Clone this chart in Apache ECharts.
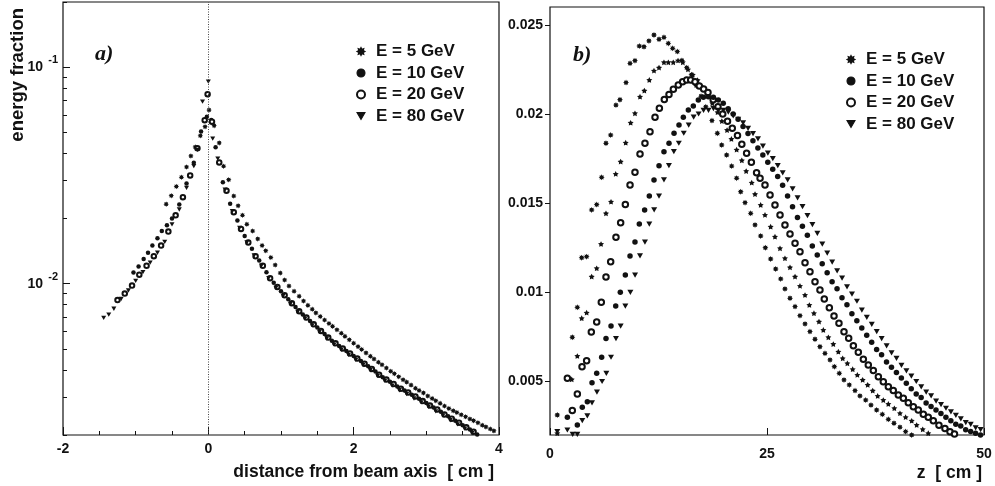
<!DOCTYPE html>
<html>
<head>
<meta charset="utf-8">
<script src="https://cdn.jsdelivr.net/npm/echarts@6/dist/echarts.min.js"></script>
<style>
  html, body { margin: 0; padding: 0; background: #fff; }
  #chart { width: 995px; height: 486px; }
</style>
</head>
<body>
<div id="chart"></div>
<script>
// ---------- series labels ----------
const energies = ['E = 5 GeV', 'E = 10 GeV', 'E = 20 GeV', 'E = 80 GeV'];

// ---------- panel a: lateral profile, [distance (cm), energy fraction] ----------
const lat5 = [[-0.58,0.0233],[-0.51,0.0255],[-0.44,0.0281],[-0.37,0.0310],[-0.30,0.0346],[-0.24,0.0389],[-0.18,0.0428],[-0.11,0.0482],[-0.045,0.0531],
  [0.01,0.0634],[0.08,0.0537],[0.15,0.0447],[0.21,0.0349],[0.28,0.0302],[0.35,0.0254],[0.41,0.0229],[0.47,0.0207],[0.53,0.0188],[0.61,0.0175],
  [0.68,0.0161],[0.74,0.0150],[0.79,0.0142],[0.86,0.0132],[0.92,0.0122],[0.99,0.0112],[1.05,0.0104],[1.11,0.00975],[1.18,0.00923],[1.25,0.00875],
  [1.31,0.00832],[1.37,0.00794],[1.43,0.00762],[1.48,0.00733],[1.54,0.00705],[1.60,0.00679],[1.66,0.00655],[1.71,0.00635],[1.77,0.00612],
  [1.83,0.00590],[1.88,0.00571],[1.94,0.00551],[2.00,0.00531],[2.06,0.00512],[2.11,0.00497],[2.17,0.00479],[2.23,0.00462],[2.28,0.00449],
  [2.34,0.00434],[2.39,0.00422],[2.45,0.00408],[2.51,0.00394],[2.56,0.00384],[2.62,0.00372],[2.68,0.00360],[2.73,0.00351],[2.79,0.00340],
  [2.85,0.00329],[2.90,0.00321],[2.96,0.00313],[3.02,0.00303],[3.08,0.00295],[3.13,0.00288],[3.19,0.00280],[3.25,0.00272],[3.31,0.00265],
  [3.37,0.00259],[3.42,0.00254],[3.48,0.00248],[3.54,0.00243],[3.60,0.00237],[3.65,0.00233],[3.71,0.00228],[3.77,0.00222],[3.82,0.00218],
  [3.88,0.00213],[3.93,0.00209]];

const lat10 = [[-1.03,0.01125],[-0.96,0.0120],[-0.89,0.0130],[-0.83,0.0139],[-0.77,0.0150],[-0.70,0.0162],[-0.64,0.0175],[-0.57,0.0186],
  [-0.50,0.0200],[-0.40,0.0232],[-0.30,0.0290],[-0.20,0.0362],[-0.10,0.0505],[-0.02,0.0590],[0.04,0.0570],
  [0.10,0.0427],[0.20,0.0294],[0.30,0.0234],[0.40,0.0196],[0.50,0.0166],[0.60,0.0145],[0.70,0.0128],[0.80,0.0113],[0.90,0.0101],
  [1.00,0.00923],[1.10,0.00847],[1.20,0.00780],[1.30,0.00721],[1.40,0.00673],[1.50,0.00627],[1.60,0.00585],[1.70,0.00545],[1.80,0.00516],
  [1.90,0.00489],[2.00,0.00463],[2.10,0.00439],[2.20,0.00415],[2.30,0.00393],[2.40,0.00370],[2.50,0.00352],[2.60,0.00335],[2.70,0.00321],
  [2.80,0.00307],[2.90,0.00294],[3.00,0.00281],[3.10,0.00268],[3.20,0.00256],[3.30,0.00244],[3.40,0.00233],[3.50,0.00222],[3.60,0.00212],
  [3.70,0.00201]];

const lat20 = [[-1.25,0.0084],[-1.15,0.0090],[-1.05,0.0098],[-0.95,0.0110],[-0.85,0.0121],[-0.75,0.0134],[-0.65,0.0150],[-0.55,0.0174],
  [-0.45,0.0207],[-0.35,0.0251],[-0.25,0.0316],[-0.15,0.0422],[-0.05,0.0569],[-0.01,0.0750],[0.05,0.0560],
  [0.15,0.0363],[0.25,0.0269],[0.35,0.0214],[0.45,0.0179],[0.55,0.0155],[0.65,0.0134],[0.75,0.0121],[0.85,0.0106],[0.95,0.00966],
  [1.05,0.00885],[1.15,0.00813],[1.25,0.00746],[1.35,0.00697],[1.45,0.00649],[1.55,0.00605],[1.65,0.00564],[1.75,0.00530],[1.85,0.00502],
  [1.95,0.00476],[2.05,0.00451],[2.15,0.00427],[2.25,0.00404],[2.35,0.00380],[2.45,0.00361],[2.55,0.00344],[2.65,0.00327],[2.75,0.00314],
  [2.85,0.00301],[2.95,0.00287],[3.05,0.00274],[3.15,0.00262],[3.25,0.00249],[3.35,0.00238],[3.45,0.00228],[3.55,0.00217],[3.65,0.00207]];

const lat80 = [[-1.44,0.00695],[-1.37,0.00720],[-1.30,0.00766],[-1.20,0.00850],[-1.10,0.00930],[-1.00,0.0103],[-0.90,0.0113],[-0.80,0.0125],
  [-0.70,0.0139],[-0.60,0.0156],[-0.50,0.0188],[-0.40,0.0220],[-0.30,0.0277],[-0.20,0.0349],[-0.15,0.0415],[-0.08,0.0693],[0.00,0.0857],
  [0.06,0.0468],[0.13,0.0378],[0.23,0.0272],[0.33,0.0216],[0.43,0.0181],[0.53,0.0155],[0.63,0.0135],[0.73,0.0121],[0.83,0.0106],
  [0.93,0.00956],[1.03,0.00878],[1.13,0.00806],[1.23,0.00741],[1.33,0.00689],[1.43,0.00642],[1.53,0.00599],[1.63,0.00558],[1.73,0.00523],
  [1.83,0.00495],[1.93,0.00469],[2.03,0.00445],[2.13,0.00421],[2.23,0.00398],[2.33,0.00375],[2.43,0.00356],[2.53,0.00338],[2.63,0.00322],
  [2.73,0.00309],[2.83,0.00295],[2.93,0.00283],[3.03,0.00270],[3.13,0.00257],[3.23,0.00246],[3.33,0.00234],[3.43,0.00224],[3.53,0.00214],
  [3.63,0.00204]];

// ---------- panel b: longitudinal profile, [z (cm), energy fraction] ----------
const lon5 = [[0.84,0.00312],[2.57,0.00748],[3.15,0.00916],[3.65,0.01194],[4.22,0.0120],[4.8,0.01462],[5.38,0.01492],[5.95,0.01645],
  [6.45,0.01836],[6.99,0.01882],[7.6,0.0205],[8.06,0.0208],[8.76,0.02176],[9.22,0.02284],[9.79,0.02299],[10.29,0.02381],[10.83,0.02377],
  [11.4,0.0241],[11.98,0.02443],[12.56,0.02419],[13.13,0.0243],[13.63,0.02396],[14.13,0.02368],[14.67,0.0235],[15.2,0.0230],[15.75,0.0226],
  [16.3,0.0222],[16.85,0.0216],[17.4,0.0210],[17.95,0.0204],[18.66,0.01963],[19.28,0.01892],[19.78,0.01826],[20.35,0.0177],[20.93,0.01708],
  [21.5,0.0164],[21.97,0.01564],[22.47,0.01503],[23.12,0.01443],[23.62,0.01378],[24.27,0.01316],[24.81,0.0125],[25.42,0.01187],[26.0,0.01131],
  [26.58,0.01075],[27.07,0.01019],[27.65,0.00967],[28.23,0.0092],[28.8,0.00869],[29.38,0.00823],[29.95,0.0078],[30.53,0.00737],[31.1,0.00695],
  [31.68,0.00658],[32.26,0.00621],[32.76,0.00583],[33.33,0.00546],[33.87,0.00509],[34.48,0.00481],[35.14,0.00449],[35.71,0.00419],
  [36.37,0.00396],[36.98,0.00368],[37.63,0.0034],[38.29,0.00316],[38.98,0.00288],[39.63,0.00266],[40.32,0.00244],[40.97,0.00219],[41.67,0.0020]];

const lonStar = [[0.84,0.0021],[2.5,0.00512],[3.15,0.00643],[3.65,0.00855],[4.22,0.00886],[4.8,0.01088],[5.38,0.01135],[5.88,0.01271],
  [6.45,0.01443],[7.03,0.01508],[7.57,0.01664],[8.14,0.01733],[8.72,0.01839],[9.29,0.01951],[9.79,0.02004],[10.37,0.02097],[10.87,0.02131],
  [11.44,0.02191],[11.98,0.02243],[12.56,0.0226],[13.13,0.0229],[13.63,0.0229],[14.2,0.0229],[14.75,0.0230],[15.3,0.0229],[15.9,0.0225],
  [16.45,0.0222],[17.0,0.0219],[17.6,0.0215],[18.1,0.0211],[18.7,0.0206],[19.3,0.0201],[19.8,0.0196],[20.4,0.0191],[20.9,0.0186],[21.5,0.0180],
  [22.1,0.0174],[22.6,0.0168],[23.24,0.01615],[23.62,0.01551],[24.27,0.0149],[24.77,0.01434],[25.42,0.01368],[25.92,0.01312],[26.5,0.01247],
  [27.07,0.01191],[27.65,0.0114],[28.23,0.01088],[28.8,0.01036],[29.38,0.00985],[29.88,0.00929],[30.41,0.00883],[30.99,0.00836],[31.49,0.00789],
  [32.07,0.00748],[32.64,0.0071],[33.22,0.00667],[33.72,0.0063],[34.26,0.00602],[34.87,0.00569],[35.41,0.00537],[36.02,0.00509],[36.6,0.00481],
  [37.18,0.00449],[37.75,0.00419],[38.4,0.00396],[38.98,0.00374],[39.67,0.0035],[40.32,0.00322],[40.97,0.003],[41.67,0.0028],[42.24,0.00256],
  [42.94,0.00232],[43.58,0.0021]];

const lon20 = [[2.0,0.00518],[2.57,0.00337],[3.15,0.0043],[3.69,0.00583],[4.22,0.00617],[4.76,0.00778],[5.38,0.00834],[5.91,0.00944],
  [6.45,0.01086],[6.99,0.01172],[7.6,0.01309],[8.14,0.0139],[8.68,0.01492],[9.22,0.01602],[9.79,0.01673],[10.37,0.01776],[10.94,0.01836],
  [11.52,0.01901],[12.1,0.01982],[12.6,0.02032],[13.17,0.02082],[13.71,0.0211],[14.21,0.02139],[14.78,0.02163],[15.28,0.02181],[15.75,0.02191],
  [16.21,0.02191],[16.71,0.02181],[17.2,0.02157],[17.7,0.0214],[18.2,0.0212],[18.8,0.0208],[19.35,0.0204],[19.9,0.0200],[20.45,0.0196],
  [21.0,0.0192],[21.6,0.0188],[22.1,0.0183],[22.65,0.0178],[23.2,0.0173],[23.8,0.0167],[24.2,0.0164],[24.77,0.01602],[25.35,0.01546],
  [25.92,0.0149],[26.5,0.01434],[27.07,0.01378],[27.65,0.01327],[28.23,0.01275],[28.8,0.01228],[29.38,0.01166],[29.95,0.01116],[30.53,0.0106],
  [31.1,0.01013],[31.6,0.00963],[32.18,0.00914],[32.72,0.00867],[33.29,0.00826],[33.87,0.00779],[34.41,0.00742],[34.95,0.00701],[35.52,0.00664],
  [36.1,0.00625],[36.67,0.00593],[37.25,0.00561],[37.83,0.00527],[38.4,0.00499],[38.98,0.00471],[39.55,0.00449],[40.13,0.00424],[40.71,0.00406],
  [41.28,0.00381],[41.86,0.00358],[42.43,0.0034],[43.01,0.00317],[43.58,0.00299],[44.16,0.0028],[44.81,0.00255],[45.5,0.00237],[46.08,0.00218],
  [46.6,0.00205]];

const lon10 = [[2.0,0.0030],[3.15,0.00256],[3.72,0.00356],[4.3,0.00387],[4.84,0.00493],[5.38,0.00546],[5.95,0.00636],[6.45,0.00741],
  [7.03,0.00811],[7.57,0.00923],[8.1,0.0100],[8.68,0.01097],[9.22,0.01204],[9.79,0.01282],[10.29,0.01383],[10.9,0.01462],[11.44,0.0154],
  [11.98,0.0163],[12.56,0.0171],[13.13,0.01789],[13.71,0.01836],[14.29,0.01892],[14.86,0.01938],[15.36,0.01982],[15.94,0.02022],[16.51,0.02045],
  [17.09,0.02079],[17.67,0.02094],[18.24,0.02097],[18.82,0.02094],[19.39,0.02079],[19.96,0.0206],[20.53,0.0203],[21.1,0.0200],[21.67,0.0197],
  [22.24,0.0193],[22.81,0.0189],[23.38,0.0185],[23.95,0.0181],[24.52,0.0177],[25.09,0.0173],[25.66,0.0169],[26.23,0.0165],[26.8,0.0160],
  [27.37,0.0154],[27.94,0.0148],[28.51,0.0142],[29.08,0.0137],[29.65,0.0132],[30.22,0.0126],[30.79,0.0121],[31.36,0.0116],[31.93,0.0111],
  [32.5,0.0106],[33.07,0.0102],[33.64,0.0097],[34.21,0.0093],[34.78,0.0088],[35.35,0.0084],[35.92,0.0080],[36.49,0.0076],[37.06,0.0072],
  [37.63,0.0068],[38.2,0.0065],[38.77,0.0061],[39.34,0.0058],[39.91,0.0055],[40.48,0.0052],[41.05,0.0049],[41.62,0.0046],[42.19,0.0043],
  [42.76,0.0041],[43.33,0.0038],[43.9,0.0036],[44.47,0.0034],[45.04,0.0032],[45.61,0.0030],[46.18,0.0028],[46.75,0.0026],[47.32,0.0025],
  [47.89,0.0023],[48.46,0.0022],[49.03,0.0021],[49.6,0.0020]];

const lon80 = [[0.84,0.00219],[2.0,0.00228],[2.61,0.00203],[3.15,0.00203],[3.72,0.0028],[4.3,0.00307],[4.84,0.0038],[5.41,0.0044],
  [6.0,0.0050],[6.49,0.00546],[7.03,0.00636],[7.6,0.00741],[8.14,0.00811],[8.68,0.00923],[9.26,0.0100],[9.8,0.01097],[10.37,0.01204],
  [10.94,0.01282],[11.44,0.01383],[12.0,0.01462],[12.56,0.0154],[13.13,0.0163],[13.7,0.0171],[14.27,0.01789],[14.84,0.01836],[15.41,0.01892],
  [15.98,0.01938],[16.55,0.01982],[17.12,0.0200],[17.69,0.0202],[18.26,0.0202],[18.83,0.0203],[19.4,0.0202],[19.97,0.0202],[20.54,0.0201],
  [21.11,0.0199],[21.68,0.0197],[22.25,0.0195],[22.82,0.0192],[23.39,0.0189],[23.96,0.0186],[24.53,0.0182],[25.1,0.0178],[25.67,0.0175],
  [26.24,0.0171],[26.81,0.0167],[27.38,0.0163],[27.95,0.0158],[28.52,0.0153],[29.09,0.0148],[29.66,0.0143],[30.23,0.0138],[30.8,0.0133],
  [31.37,0.0127],[31.94,0.0122],[32.51,0.0117],[33.08,0.0112],[33.65,0.0108],[34.22,0.0103],[34.79,0.0099],[35.36,0.0095],[35.93,0.0090],
  [36.5,0.0086],[37.07,0.0082],[37.64,0.0078],[38.21,0.0074],[38.78,0.0070],[39.35,0.0066],[39.92,0.0063],[40.49,0.0059],[41.06,0.0056],
  [41.63,0.0053],[42.2,0.0050],[42.77,0.0047],[43.34,0.0044],[43.91,0.0042],[44.48,0.0039],[45.05,0.0037],[45.62,0.0035],[46.19,0.0033],
  [46.76,0.0031],[47.33,0.0029],[47.9,0.0027],[48.47,0.0026],[49.04,0.0024],[49.61,0.0023]];

// ---------- tick positions ----------
const logMajor = [0.01, 0.1];
const logMinor = [0.002,0.003,0.004,0.005,0.006,0.007,0.008,0.009,0.02,0.03,0.04,0.05,0.06,0.07,0.08,0.09,0.2];
const zTicks = [0.005, 0.01, 0.015, 0.02, 0.025];

// ---------- styling ----------
const INK = '#111';
const FONT = '"Liberation Sans", Arial, Helvetica, sans-serif';
const ASTERISK = 'path://M50 0L61.5 22.3L85.4 14.6L77.7 38.5L100 50L77.7 61.5L85.4 85.4L61.5 77.7L50 100L38.5 77.7L14.6 85.4L22.3 61.5L0 50L22.3 38.5L14.6 14.6L38.5 22.3Z';
const STAR = 'path://M50 0L65.3 29L97.6 34.5L74.7 58L79.4 90.5L50 76L20.6 90.5L25.3 58L2.4 34.5L34.7 29Z';
const TRI_DOWN = 'path://M0 0L100 0L50 87Z';

const markerStyles = {
  'E = 5 GeV':  ASTERISK,
  'E = 10 GeV': 'circle',
  'E = 20 GeV': 'emptyCircle',
  'E = 80 GeV': TRI_DOWN
};

function scatter(name, data, xi, yi, size) {
  const sym = markerStyles[name] || STAR;
  const s = {
    type: 'scatter',
    xAxisIndex: xi, yAxisIndex: yi,
    data: data,
    symbol: sym,
    symbolKeepAspect: true,
    symbolSize: size,
    itemStyle: { color: INK, borderColor: INK, borderWidth: sym === 'emptyCircle' ? 1.1 : 0, opacity: 1 },
    emphasis: { disabled: true },
    silent: true
  };
  if (name) s.name = name;
  return s;
}

const axisFont = { color: INK, fontSize: 14, fontWeight: 'bold', fontFamily: FONT };
const hiddenLine = { show: false, onZero: false };
const legendBase = {
  data: energies.map(function (n) { return { name: n, icon: markerStyles[n] }; }),
  orient: 'vertical',
  itemWidth: 8, itemHeight: 8, itemGap: 4.5,
  selectedMode: false,
  itemStyle: { color: INK, borderColor: INK, borderWidth: 1.1 },
  textStyle: { color: INK, fontSize: 17, fontWeight: 'bold', fontFamily: FONT, padding: [0, 0, 0, 6] }
};

const leftSeries = [
  scatter('E = 5 GeV', lat5, 0, 0, 5.5),
  scatter('E = 10 GeV', lat10, 0, 0, 4.5),
  scatter('E = 20 GeV', lat20, 0, 0, 4.5),
  scatter('E = 80 GeV', lat80, 0, 0, 5)
];
leftSeries[0].markLine = {
  silent: true, symbol: 'none', animation: false,
  label: { show: false },
  lineStyle: { color: '#444', type: [1, 1.5], width: 1 },
  data: [{ xAxis: 0 }]
};

const rightSeries = [
  scatter('E = 5 GeV', lon5, 1, 2, 6),
  scatter(null, lonStar, 1, 2, 6),
  scatter('E = 20 GeV', lon20, 1, 2, 5.5),
  scatter('E = 10 GeV', lon10, 1, 2, 5.5),
  scatter('E = 80 GeV', lon80, 1, 2, 6)
];

const option = {
  animation: false,
  backgroundColor: '#fff',
  textStyle: { fontFamily: FONT },
  grid: [
    { left: 63, right: 496, top: 2, bottom: 51, show: true, borderColor: INK, borderWidth: 1.2, backgroundColor: 'transparent' },
    { left: 550, right: 11, top: 7, bottom: 51, show: true, borderColor: INK, borderWidth: 1.2, backgroundColor: 'transparent' }
  ],
  legend: [
    Object.assign({}, legendBase, { left: 351, top: 38 }),
    Object.assign({}, legendBase, { left: 841, top: 46 })
  ],
  xAxis: [
    {
      type: 'value', gridIndex: 0, position: 'bottom', min: -2, max: 4, interval: 2,
      axisLine: hiddenLine,
      axisTick: { inside: true, length: 8, lineStyle: { color: INK, width: 1 } },
      minorTick: { show: true, splitNumber: 4, length: 4, lineStyle: { color: INK, width: 1 } },
      splitLine: { show: false }, minorSplitLine: { show: false },
      axisLabel: Object.assign({ margin: 7 }, axisFont)
    },
    {
      type: 'value', gridIndex: 1, position: 'bottom', min: 0, max: 50, interval: 25,
      axisLine: hiddenLine,
      axisTick: { inside: true, length: 7, lineStyle: { color: INK, width: 1 } },
      splitLine: { show: false },
      axisLabel: Object.assign({ margin: 12 }, axisFont)
    }
  ],
  yAxis: [
    {
      type: 'log', logBase: 10, gridIndex: 0, position: 'left', min: 0.002, max: 0.2,
      axisLine: hiddenLine,
      axisTick: { inside: true, length: 7, customValues: logMajor, lineStyle: { color: INK, width: 1 } },
      splitLine: { show: false },
      axisLabel: {
        customValues: logMajor,
        margin: 5,
        // exponent on its own line, right-aligned above and beside the base
        formatter: function (v) {
          const e = Math.round(Math.log10(v));
          return '{s|' + e + '}\n{b|10}';
        },
        rich: {
          b: { fontSize: 14, fontWeight: 'bold', color: INK, fontFamily: FONT, lineHeight: 14, padding: [0, 15, 12, 0] },
          s: { fontSize: 11, fontWeight: 'bold', color: INK, fontFamily: FONT, lineHeight: 12 }
        }
      }
    },
    {
      // minor decade ticks along the same left edge
      type: 'log', logBase: 10, gridIndex: 0, position: 'left', offset: 0, min: 0.002, max: 0.2,
      axisLine: hiddenLine,
      axisTick: { inside: true, length: 4, customValues: logMinor, lineStyle: { color: INK, width: 1 } },
      axisLabel: { show: false },
      splitLine: { show: false }
    },
    {
      type: 'value', gridIndex: 1, position: 'left', min: 0.002, max: 0.026,
      axisLine: hiddenLine,
      axisTick: { inside: false, length: 5, customValues: zTicks, lineStyle: { color: INK, width: 1 } },
      splitLine: { show: false },
      axisLabel: Object.assign({ margin: 7, customValues: zTicks }, axisFont)
    }
  ],
  graphic: [
    { type: 'text', x: 95, y: 54, style: { text: 'a)', fill: INK, font: 'italic bold 22px "Liberation Serif", "Times New Roman", serif', align: 'left', verticalAlign: 'middle' } },
    { type: 'text', x: 573, y: 55, style: { text: 'b)', fill: INK, font: 'italic bold 22px "Liberation Serif", "Times New Roman", serif', align: 'left', verticalAlign: 'middle' } },
    { type: 'text', x: 18, y: 8, rotation: Math.PI / 2, style: { text: 'energy fraction', fill: INK, font: 'bold 18.5px ' + FONT, align: 'right', verticalAlign: 'middle' } },
    { type: 'text', x: 494, y: 472, style: { text: 'distance from beam axis  [ cm ]', fill: INK, font: 'bold 17.5px ' + FONT, align: 'right', verticalAlign: 'middle' } },
    { type: 'text', x: 982, y: 473, style: { text: 'z  [ cm ]', fill: INK, font: 'bold 17.5px ' + FONT, align: 'right', verticalAlign: 'middle' } }
  ],
  series: leftSeries.concat(rightSeries)
};

const chart = echarts.init(document.getElementById('chart'), null, { renderer: 'canvas' });
chart.setOption(option);
</script>
</body>
</html>
